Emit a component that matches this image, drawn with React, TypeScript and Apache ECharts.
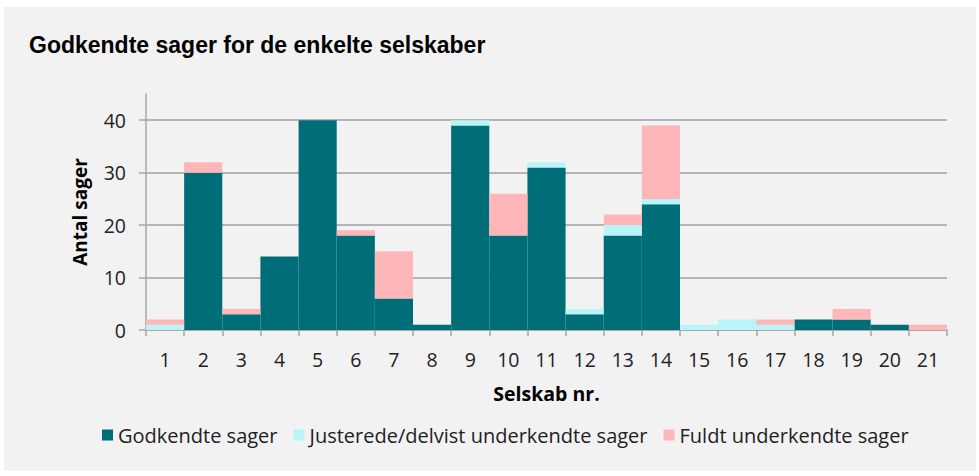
import React, { useEffect, useRef } from "react";
import * as echarts from "echarts";

const categories = ["1","2","3","4","5","6","7","8","9","10","11","12","13","14","15","16","17","18","19","20","21"];
const godkendte = [0, 30, 3, 14, 40, 18, 6, 1, 39, 18, 31, 3, 18, 24, 0, 0, 0, 2, 2, 1, 0];
const justerede = [1, 0, 0, 0, 0, 0, 0, 0, 1, 0, 1, 1, 2, 1, 1, 2, 1, 0, 0, 0, 0];
const fuldt = [1, 2, 1, 0, 0, 1, 9, 0, 0, 8, 0, 0, 2, 14, 0, 0, 1, 0, 2, 0, 1];
const yTicks = [0, 10, 20, 30, 40];

const LABEL_FONT = "'Open Sans', 'Noto Sans', sans-serif";

export default function App() {
  const ref = useRef<HTMLDivElement>(null);
  useEffect(() => {
    if (!ref.current) return;
    const chart = echarts.init(ref.current, undefined, { renderer: "svg" });
    chart.setOption({
      animation: false,
      backgroundColor: "transparent",
      title: {
        text: "Godkendte sager for de enkelte selskaber",
        left: 24,
        top: 28,
        textStyle: { fontFamily: "'Liberation Sans', Arial, sans-serif", fontWeight: "bold", fontSize: 23, color: "#000" },
      },
      legend: {
        bottom: 26,
        left: 97,
        icon: "rect",
        itemWidth: 11,
        itemHeight: 11,
        itemGap: 16,
        textStyle: { fontFamily: LABEL_FONT, fontSize: 20, color: "#222" },
        data: ["Godkendte sager", "Justerede/delvist underkendte sager", "Fuldt underkendte sager"],
      },
      grid: { left: 146, right: 32, top: 94, bottom: 146, containLabel: false },
      xAxis: {
        type: "category",
        data: categories,
        name: "Selskab nr.",
        nameLocation: "middle",
        nameGap: 53,
        nameTextStyle: { fontFamily: LABEL_FONT, fontWeight: "bold", fontSize: 19.5, color: "#000" },
        axisLine: { lineStyle: { color: "#a6a6a6", width: 1.5 } },
        axisTick: { show: true, length: 6, interval: 0, lineStyle: { color: "#a6a6a6", width: 1.5 } },
        axisLabel: { interval: 0, margin: 19, fontFamily: LABEL_FONT, fontSize: 19.5, color: "#222" },
      },
      yAxis: {
        type: "value",
        min: 0,
        max: 45,
        interval: 10,
        name: "Antal sager",
        nameLocation: "middle",
        nameGap: 57,
        nameRotate: 90,
        nameTextStyle: { fontFamily: LABEL_FONT, fontWeight: "bold", fontSize: 19, color: "#000" },
        axisLine: { show: true, lineStyle: { color: "#a6a6a6", width: 1.5 } },
        axisTick: { show: true, length: 7, customValues: yTicks, lineStyle: { color: "#a6a6a6", width: 1.5 } },
        axisLabel: { margin: 20, customValues: yTicks, fontFamily: LABEL_FONT, fontSize: 19.5, color: "#222" },
        splitLine: { show: true, lineStyle: { color: "#a0a0a0", width: 1.5 } },
      },
      series: [
        { name: "Godkendte sager", type: "bar", stack: "a", data: godkendte, barCategoryGap: "0%", itemStyle: { color: "#006E78" } },
        { name: "Justerede/delvist underkendte sager", type: "bar", stack: "a", data: justerede, barCategoryGap: "0%", itemStyle: { color: "#B8F4F8" } },
        { name: "Fuldt underkendte sager", type: "bar", stack: "a", data: fuldt, barCategoryGap: "0%", itemStyle: { color: "#FFB6B8" } },
      ],
    });
    return () => chart.dispose();
  }, []);
  return (
    <div style={{ position: "absolute", left: 0, top: 0, width: 979, height: 476, background: "#fff" }}>
      <div style={{ position: "absolute", left: 4, top: 7, width: 972, height: 464, background: "#f2f2f2" }} />
      <div ref={ref} style={{ position: "absolute", left: 0, top: 0, width: 979, height: 476 }} />
    </div>
  );
}
